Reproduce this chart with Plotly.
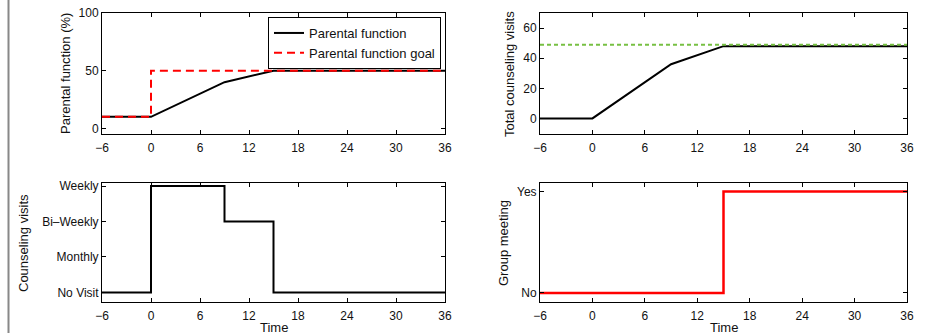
import plotly.graph_objects as go

# ---- data ----
time_pf = [-6, 0, 9, 15, 36]
parental_function = [10, 10, 40, 50, 50]
time_goal = [-6, 0, 36]
parental_goal = [10, 50, 50]

time_tv = [-6, 0, 9, 15, 36]
total_visits = [0, 0, 36, 48, 48]
goal_time = [-6, 36]
total_visits_goal = [49, 49]

time_cv = [-6, 0, 9, 15, 36]
counseling_level = [0, 3, 2, 0, 0]
counseling_labels = ["No Visit", "Monthly", "Bi\u2013Weekly", "Weekly"]

time_gm = [-6, 15, 36]
group_meeting = [0, 1, 1]
group_labels = ["No", "Yes"]

x_ticks = [-6, 0, 6, 12, 18, 24, 30, 36]

W, H = 932, 335
FONT = "Liberation Sans, Arial, Helvetica, sans-serif"

def px(x):
    return x / W

def py(y):
    return 1 - y / H

fig = go.Figure()

# top-left
fig.add_trace(go.Scatter(x=time_pf, y=parental_function, mode="lines",
                         line=dict(color="black", width=2), name="Parental function",
                         xaxis="x", yaxis="y"))
fig.add_trace(go.Scatter(x=time_goal, y=parental_goal, mode="lines",
                         line=dict(color="red", width=2, dash="8px,5px", shape="hv"),
                         name="Parental function goal", xaxis="x", yaxis="y"))
# top-right
fig.add_trace(go.Scatter(x=time_tv, y=total_visits, mode="lines",
                         line=dict(color="black", width=2), showlegend=False,
                         xaxis="x2", yaxis="y2"))
fig.add_trace(go.Scatter(x=goal_time, y=total_visits_goal, mode="lines",
                         line=dict(color="#77c043", width=2, dash="4px,3px"), showlegend=False,
                         xaxis="x2", yaxis="y2"))
# bottom-left
fig.add_trace(go.Scatter(x=time_cv, y=counseling_level, mode="lines",
                         line=dict(color="black", width=2, shape="hv"), showlegend=False,
                         xaxis="x3", yaxis="y3"))
# bottom-right
fig.add_trace(go.Scatter(x=time_gm, y=group_meeting, mode="lines",
                         line=dict(color="red", width=2.5, shape="hv"), showlegend=False,
                         xaxis="x4", yaxis="y4"))

col1 = [px(102), px(445)]
col2 = [px(540), px(907)]
row1 = [py(133.5), py(13)]
row2 = [py(302), py(182.5)]

common = dict(showline=True, linecolor="black", linewidth=1, mirror="ticks",
              ticks="inside", ticklen=4, tickcolor="black", tickwidth=1,
              showgrid=False, zeroline=False, automargin=False,
              tickfont=dict(family=FONT, size=12, color="#111"))

xcommon = dict(common, range=[-6, 36], tickvals=x_ticks, ticklabelstandoff=3,
               ticktext=[("\u2212" + str(-t)) if t < 0 else str(t) for t in x_ticks])

fig.update_layout(
    width=W, height=H,
    margin=dict(l=0, r=0, t=0, b=0),
    paper_bgcolor="white", plot_bgcolor="white",
    font=dict(family=FONT, size=12, color="#111"),
    xaxis=dict(xcommon, domain=col1, anchor="y"),
    yaxis=dict(common, domain=row1, anchor="x", range=[-4.5, 100], tickvals=[0, 50, 100]),
    xaxis2=dict(xcommon, domain=col2, anchor="y2"),
    yaxis2=dict(common, domain=row1, anchor="x2", range=[-10, 70], tickvals=[0, 20, 40, 60]),
    xaxis3=dict(xcommon, domain=col1, anchor="y3"),
    yaxis3=dict(common, domain=row2, anchor="x3", range=[-0.27, 3.1],
                tickvals=[0, 1, 2, 3], ticktext=counseling_labels),
    xaxis4=dict(xcommon, domain=col2, anchor="y4"),
    yaxis4=dict(common, domain=row2, anchor="x4", range=[-0.09, 1.09],
                tickvals=[0, 1], ticktext=group_labels),
    legend=dict(x=px(441), y=py(17), xanchor="right", yanchor="top",
                bordercolor="black", borderwidth=1, bgcolor="white",
                font=dict(family=FONT, size=13, color="#111"),
                tracegroupgap=0, itemwidth=30),
    showlegend=True,
)

annots = [
    dict(text="Parental function (%)", x=px(65), y=py(74), textangle=-90),
    dict(text="Total counseling visits", x=px(509), y=py(74), textangle=-90),
    dict(text="Counseling visits", x=px(23), y=py(243), textangle=-90),
    dict(text="Group meeting", x=px(503), y=py(243), textangle=-90),
    dict(text="Time", x=px(273.5), y=py(327), textangle=0),
    dict(text="Time", x=px(723.5), y=py(327), textangle=0),
]
for a in annots:
    fig.add_annotation(xref="paper", yref="paper", showarrow=False,
                       xanchor="center", yanchor="middle",
                       font=dict(family=FONT, size=13, color="#111"), **a)

fig.add_shape(type="line", xref="paper", yref="paper",
              x0=px(8.5), x1=px(8.5), y0=py(0), y1=py(333),
              line=dict(color="#888888", width=2))

fig.write_html("out.html",
               config={"displayModeBar": False},
               post_script="document.body.style.margin='0';document.body.style.overflow='hidden';")
